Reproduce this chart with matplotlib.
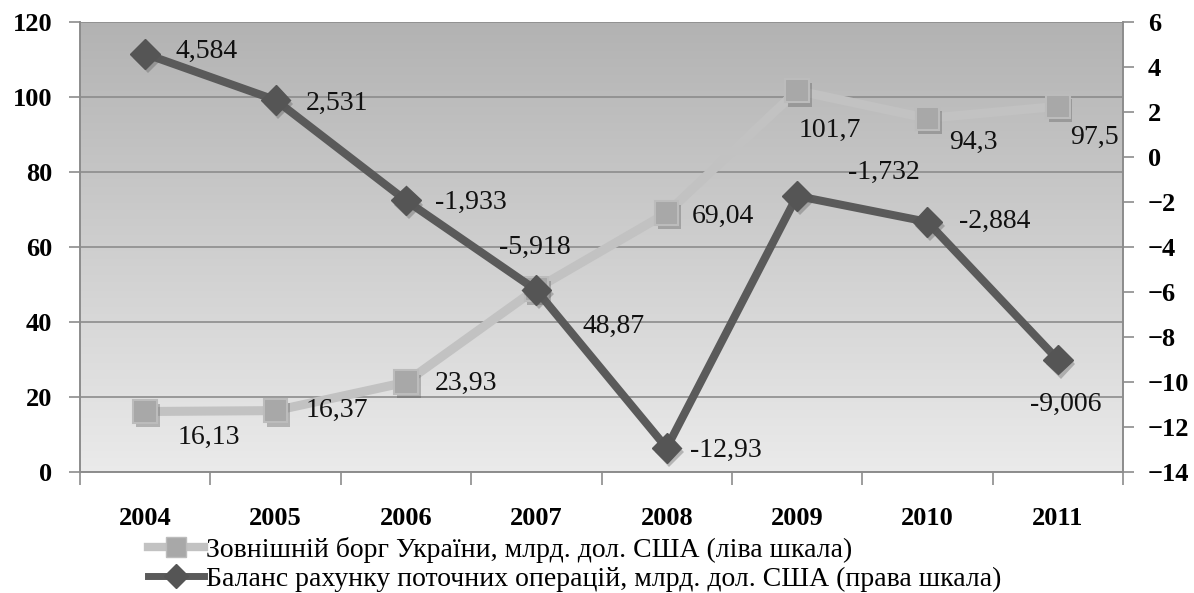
import numpy as np
import matplotlib
matplotlib.use("Agg")
import matplotlib.pyplot as plt
from matplotlib.lines import Line2D
import matplotlib.patheffects as pe

years = ["2004", "2005", "2006", "2007", "2008", "2009", "2010", "2011"]
debt = [16.13, 16.37, 23.93, 48.87, 69.04, 101.7, 94.3, 97.5]
debt_labels = ["16,13", "16,37", "23,93", "48,87", "69,04", "101,7", "94,3", "97,5"]
balance = [4.584, 2.531, -1.933, -5.918, -12.93, -1.732, -2.884, -9.006]
balance_labels = ["4,584", "2,531", "-1,933", "-5,918", "-12,93", "-1,732", "-2,884", "-9,006"]
left_ticks = [0, 20, 40, 60, 80, 100, 120]
right_ticks = [-14, -12, -10, -8, -6, -4, -2, 0, 2, 4, 6]
legend_debt = "Зовнішній борг України, млрд. дол. США (ліва шкала)"
legend_bal = "Баланс рахунку поточних операцій, млрд. дол. США (права шкала)"

# label offsets in pixels
debt_off = [(64, -26), (61, 0), (60, -1), (77, -38), (56, -3), (33, -40), (46, -24), (37, -31)]
bal_off = [(61, 2), (61, -3), (65, -2), (-1, 43), (59, -2), (87, 24), (67, 0), (8, -45)]

plt.rcParams['font.family'] = ['Liberation Serif', 'DejaVu Serif']

W, H = 1194, 593
fig = plt.figure(figsize=(W / 100, H / 100), dpi=100)
ax = fig.add_axes([80 / W, 1 - 472 / H, (1123 - 80) / W, (472 - 22) / H])
x = np.arange(len(years))

# gradient background
grad = np.linspace(0, 1, 256).reshape(-1, 1)
top_c, bot_c = 0.70, 0.92
img = top_c + (bot_c - top_c) * grad
ax.imshow(np.dstack([img, img, img]), extent=[0, 1, 0, 1], transform=ax.transAxes,
          aspect='auto', origin='upper', zorder=0)

ax.set_xlim(-0.5, len(years) - 0.5)
ax.set_ylim(0, 120)
ax.set_yticks(left_ticks)
ax.yaxis.grid(True, color='#8c8c8c', linewidth=1.2, zorder=1)
ax.set_axisbelow(True)

shadow = [pe.SimplePatchShadow(offset=(2, -3), shadow_rgbFace='#555555', alpha=0.35), pe.Normal()]

ax.plot(x, debt, color='#c2c2c2', linewidth=6.5, zorder=3)
ax.plot(x, debt, linestyle='none', marker='s', markersize=17,
        markerfacecolor='#a8a8a8', markeredgecolor='#bcbcbc', markeredgewidth=1.5,
        zorder=3.5, path_effects=shadow)
for xi, v, lab, off in zip(x, debt, debt_labels, debt_off):
    ax.annotate(lab, (xi, v), xytext=off, textcoords='offset pixels', ha='center', va='center',
                fontsize=20, color='#111111', zorder=5)

ax2 = ax.twinx()
ax2.set_ylim(-14, 6)
ax2.set_yticks(right_ticks)
ax2.plot(x, balance, color='#5a5a5a', linewidth=5.8, zorder=4)
ax2.plot(x, balance, linestyle='none', marker='D', markersize=15,
         markerfacecolor='#555555', markeredgecolor='#555555', zorder=4.5, path_effects=shadow)
for xi, v, lab, off in zip(x, balance, balance_labels, bal_off):
    ax2.annotate(lab, (xi, v), xytext=off, textcoords='offset pixels', ha='center', va='center',
                 fontsize=20, color='#111111', zorder=5)

for a in (ax, ax2):
    for s in a.spines.values():
        s.set_color('#8c8c8c')
        s.set_linewidth(1.2)
    a.spines['top'].set_visible(False)

ax.set_xticks(x)
ax.set_xticklabels(years, fontsize=19, fontweight='bold')
ax.set_xticks(np.arange(-0.5, len(years), 1), minor=True)
ax.tick_params(axis='x', which='major', length=0, pad=25)
ax.tick_params(axis='x', which='minor', length=9, color='#8c8c8c', width=1.2, direction='out')
ax.tick_params(axis='y', length=8, color='#8c8c8c', width=1.2, labelsize=19, pad=12)
ax2.tick_params(axis='y', length=8, color='#8c8c8c', width=1.2, labelsize=19, pad=10)
for lab in ax.get_yticklabels() + ax2.get_yticklabels():
    lab.set_fontweight('bold')

handles = [
    Line2D([], [], color='#c2c2c2', linewidth=6, marker='s', markersize=14,
           markerfacecolor='#a8a8a8', markeredgecolor='#bcbcbc'),
    Line2D([], [], color='#5a5a5a', linewidth=5, marker='D', markersize=12,
           markerfacecolor='#555555', markeredgecolor='#555555'),
]
fig.legend(handles, [legend_debt, legend_bal], loc='upper left',
           bbox_to_anchor=(148 / W, 1 - 537 / H), frameon=False, fontsize=20,
           handlelength=2.0, handletextpad=0.08, labelspacing=0.12, borderpad=0, borderaxespad=0)

fig.savefig('out.png', dpi=100)
